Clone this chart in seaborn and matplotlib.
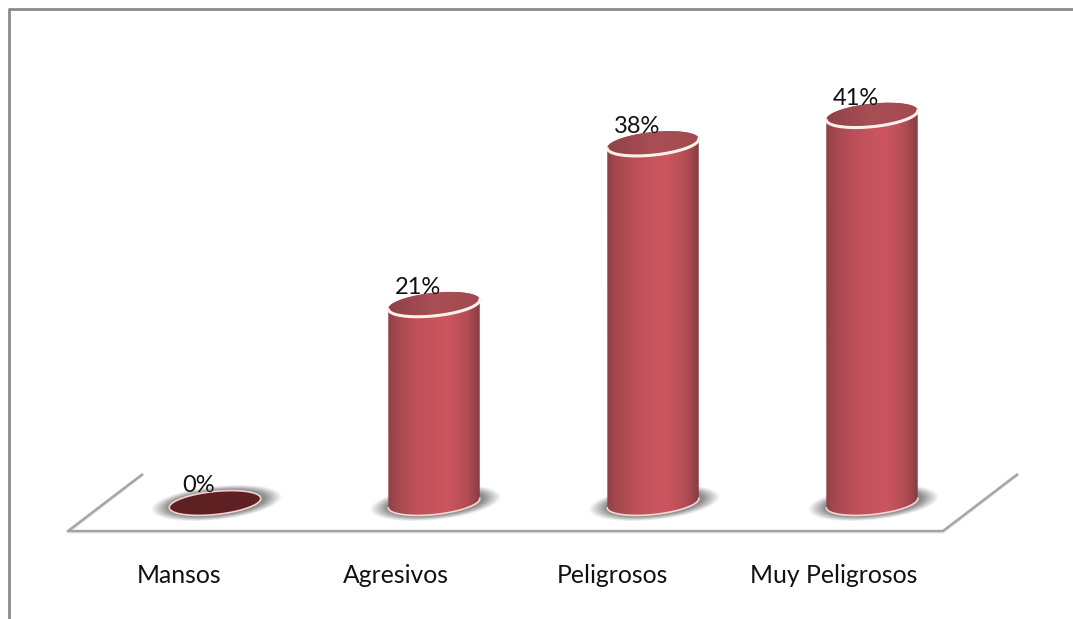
# Cylinder bar chart, 3D look built on top of a plain seaborn barplot
import numpy as np
import matplotlib
matplotlib.use('Agg')
import matplotlib.pyplot as plt
from matplotlib.colors import LinearSegmentedColormap
from matplotlib.lines import Line2D
from matplotlib.patches import PathPatch
from matplotlib.path import Path
from matplotlib.transforms import IdentityTransform, ScaledTranslation
import seaborn as sns

categories = ['Mansos', 'Agresivos', 'Peligrosos', 'Muy Peligrosos']
values = [0, 21, 38, 41]
value_labels = ['0%', '21%', '38%', '41%']

W, H = 1073, 619
BASE_Y = 503      # pixel row of value 0
PX_PER_UNIT = 9.46
FIRST_X, STEP_X = 215, 219
TILT = np.radians(6)
RX, RY = 46, 11.5

sns.set_theme(style='white')
plt.rcParams['font.family'] = ['Lato', 'DejaVu Sans']

fig = plt.figure(figsize=(W / 100, H / 100), dpi=100, facecolor='white')
ax = fig.add_axes([0, (H - BASE_Y) / H, 1, BASE_Y / H])

sns.barplot(x=categories, y=values, width=92 / STEP_X, ax=ax)
ax.set_xlim((0 - FIRST_X) / STEP_X, (W - FIRST_X) / STEP_X)
ax.set_ylim(0, BASE_Y / PX_PER_UNIT)
xlim, ylim = ax.get_xlim(), ax.get_ylim()

sns.despine(ax=ax, left=True, bottom=True)
ax.set_yticks([])
ax.set_xlabel('')
ax.set_ylabel('')
ax.patch.set_alpha(0)
ax.tick_params(axis='x', length=0, pad=44, labelsize=17.8, labelcolor='#111111')
# category labels sit left of their cylinders in the original
for tick_label, shift in zip(ax.get_xticklabels(), [-0.36, -0.38, -0.41, -0.38]):
    tick_label.set_transform(tick_label.get_transform() + ScaledTranslation(shift, 0, fig.dpi_scale_trans))

body_cmap = LinearSegmentedColormap.from_list(
    'body', [(0, '#8e4046'), (0.08, '#a2484e'), (0.3, '#bd5059'), (0.65, '#cd5660'),
             (0.87, '#b04c54'), (1, '#873c42')])
top_cmap = LinearSegmentedColormap.from_list('top', ['#8f4248', '#a84f55', '#a04a50'])


def ellipse_pts(cx, cy, start, stop, n=80):
    # points of the tilted ellipse in display pixels
    t = np.radians(np.linspace(start, stop, n))
    x = RX * np.cos(t)
    y = RY * np.sin(t)
    return np.column_stack([cx + x * np.cos(TILT) - y * np.sin(TILT),
                            cy + x * np.sin(TILT) + y * np.cos(TILT)])


def pixel_patch(pts, **kw):
    patch = PathPatch(Path(np.vstack([pts, pts[:1]])), transform=IdentityTransform(), clip_on=False, **kw)
    ax.add_patch(patch)
    return patch


def pixel_line(pts, **kw):
    ax.plot(pts[:, 0], pts[:, 1], transform=IdentityTransform(), clip_on=False, **kw)


def gradient(clip_pts, cmap, x0, x1, y0, y1, zorder):
    clip = pixel_patch(clip_pts, facecolor='none', edgecolor='none', zorder=zorder)
    im = ax.imshow(np.linspace(0, 1, 256)[None, :], cmap=cmap, aspect='auto',
                   extent=(x0, x1, y0, y1), zorder=zorder)
    im.set_clip_path(clip)
    im.set_clip_box(fig.bbox)


def soft_shadow(cx, cy, zorder):
    # blurred grey ellipse on the floor
    rx, ry = 66, 17
    xx, yy = np.meshgrid(np.linspace(-1.05, 1.05, 220), np.linspace(-1.05, 1.05, 80))
    u = xx * rx
    v = yy * ry
    r = np.hypot((u * np.cos(TILT) + v * np.sin(TILT)) / rx,
                 (-u * np.sin(TILT) + v * np.cos(TILT)) / ry)
    alpha = np.clip((1 - r) / 0.26, 0, 1) * 0.8
    img = np.zeros(r.shape + (4,))
    img[..., :3] = 0.45
    img[..., 3] = alpha
    x0, y0 = ax.transData.inverted().transform((cx - rx * 1.05, cy - ry * 1.05))
    x1, y1 = ax.transData.inverted().transform((cx + rx * 1.05, cy + ry * 1.05))
    im = ax.imshow(img, extent=(x0, x1, y0, y1), origin='lower', aspect='auto',
                   zorder=zorder, interpolation='bilinear')
    im.set_clip_on(False)


bars = list(ax.patches)
fig.canvas.draw()
for bar, val, lab in zip(bars, values, value_labels):
    bar.set_visible(False)
    xc = bar.get_x() + bar.get_width() / 2
    bx0, bx1 = bar.get_x(), bar.get_x() + bar.get_width()
    px, py_base = ax.transData.transform((xc, 0))
    _, py_top = ax.transData.transform((xc, val))

    soft_shadow(px + 1, py_base, 1)

    if val > 0:
        # front of the cylinder, gradient clipped to the outline
        outline = np.vstack([ellipse_pts(px, py_top, 0, 180), ellipse_pts(px, py_base, 180, 360)])
        gradient(outline, body_cmap, bx0, bx1, -2, val + 3, 2)
        pixel_line(ellipse_pts(px, py_base, 180, 360), color='#f4d6d2', lw=1.2, zorder=3)

        gradient(ellipse_pts(px, py_top, 0, 360), top_cmap, bx0, bx1, val - 3, val + 3, 4)
        pixel_line(ellipse_pts(px, py_top, 180, 360), color='#fdf0ea', lw=2.2,
                   solid_capstyle='round', zorder=5)
    else:
        pixel_patch(ellipse_pts(px, py_top, 0, 360), facecolor='#5e2023', edgecolor='#f2d2cf', lw=1.2, zorder=4)

    ax.annotate(lab, xy=(xc, val), xytext=(-16, 17), textcoords='offset pixels', ha='center', va='center',
                fontsize=17, color='#111111', zorder=6, annotation_clip=False)

ax.set_xlim(xlim)
ax.set_ylim(ylim)


def fig_line(xs, ys, color, lw):
    # line given in image pixels, origin top left
    fig.add_artist(Line2D(np.array(xs) / W, 1 - np.array(ys) / H, color=color, lw=lw,
                          solid_capstyle='butt', zorder=0))


# floor outline
fig_line([143, 68, 943, 1018], [474, 531.5, 531.5, 474], '#d9d9d9', 2.6)
fig_line([143, 68, 943, 1018], [474, 531, 531, 474], '#a3a3a3', 1.5)

# picture frame
fig_line([8.5, 8.5], [619, 9], '#8a8a8a', 2.0)
fig_line([8, 1073], [9, 9], '#8a8a8a', 2.0)

fig.savefig('out.png', dpi=100, facecolor='white')
plt.close(fig)
